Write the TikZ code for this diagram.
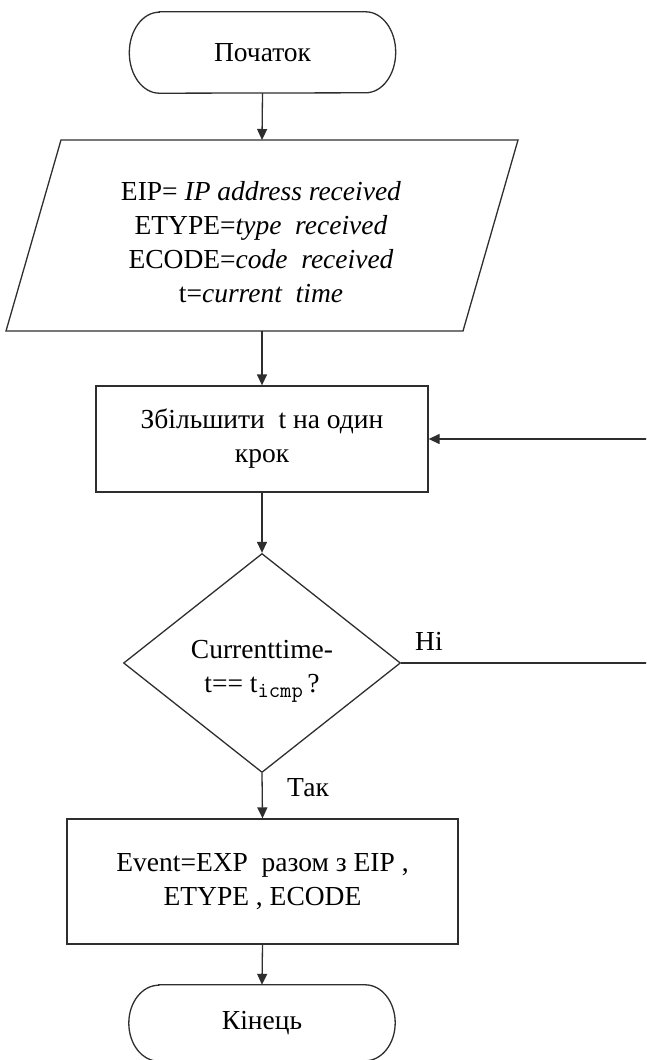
\documentclass[tikz,border=0pt]{standalone}
\usepackage{fontspec}
\setmainfont{Liberation Serif}
\usetikzlibrary{arrows.meta,shapes.geometric,calc}

% outline of a terminal (start/end) block: straight top and bottom, elliptic ends
\newcommand\termoutline[3]{%
  \draw[line] ([xshift=#2]#1.north west) -- ([xshift=-#2]#1.north east)
    arc[start angle=90,end angle=-90,x radius=#2,y radius=#3]
    -- ([xshift=#2]#1.south west)
    arc[start angle=270,end angle=90,x radius=#2,y radius=#3] -- cycle;}

\begin{document}
\begin{tikzpicture}[x=1pt,y=1pt,
  line/.style={draw=black!82,line width=1.3pt},
  flow/.style={line,-{Triangle[length=11pt,width=10pt]}},
  txt/.style={font=\fontsize{27.5}{34}\selectfont,align=center,inner sep=0pt,text=black},
  procbox/.style={txt,line,rectangle,minimum width=#1},
  term/.style={txt,minimum width=266pt,minimum height=#1}]

\useasboundingbox (0,0) rectangle (646,-1060);
\clip (0,0) rectangle (646,-1060);

% start
\node[term=81pt] (start) at (262.5,-52.5) {Початок};
\termoutline{start}{30pt}{40.5pt}

% input parallelogram
\coordinate (ioTL) at (61,-140);
\coordinate (ioTR) at (518,-140);
\coordinate (ioBR) at (463,-331);
\coordinate (ioBL) at (6,-331);
\coordinate (ioN) at (262,-140);
\coordinate (ioS) at (262,-331);
\draw[line] (ioTL) -- (ioTR) -- (ioBR) -- (ioBL) -- cycle;
\node[txt] (io) at (261,-242) {EIP= \textit{IP address received}\\
  ETYPE=\textit{type\ \ received}\\
  ECODE=\textit{code\ \ received}\\
  t=\textit{current\ \ time}};

% step
\node[procbox=332pt,minimum height=106pt] (step1) at (262,-439)
  {Збільшити\ \ t на один\\крок};

% decision
\node[shape=diamond,line,minimum width=277pt,minimum height=219pt,inner sep=0pt]
  (dec) at (262,-663) {};
\node[txt] (dectext) at (262,-671) {Currenttime-\\
  t==\ t\raisebox{-5pt}{\fontsize{22}{22}\ttfamily icmp}\,?};

% result
\node[procbox=391pt,minimum height=125pt] (res) at (262.5,-881.5)
  {Event=EXP\ \ разом з EIP ,\\ETYPE , ECODE};

% end
\node[term=76pt] (stop) at (262,-1023) {Кінець};
\termoutline{stop}{30pt}{38pt}

% branch labels
\node[txt,anchor=west] (no) at (415,-641) {Ні};
\node[txt,anchor=west] (yes) at (287,-788) {Так};

% connectors
\draw[flow] (start.south) -- (ioN);
\draw[flow] (ioS) -- (step1.north);
\draw[flow] (step1.south) -- (dec.north);
\draw[flow] (dec.south) -- (res.north);
\draw[flow] (res.south) -- (stop.north);
\coordinate (back) at (660,-439);
\draw[flow] (dec.east) -| (back) -- (step1.east);

\end{tikzpicture}
\end{document}
